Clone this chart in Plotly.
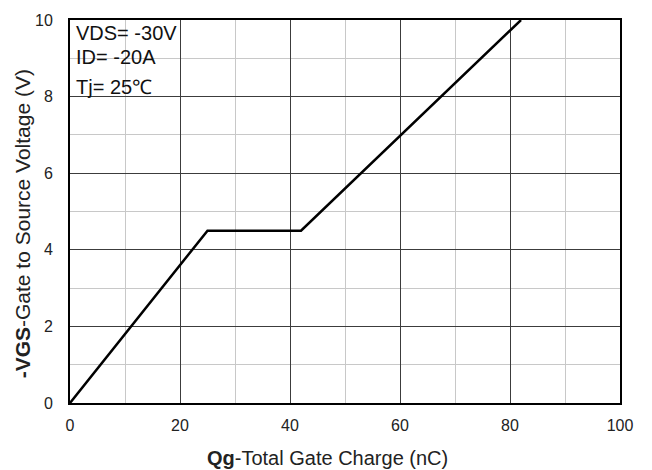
import plotly.graph_objects as go

qg = [0, 25, 42, 82]
vgs = [0, 4.5, 4.5, 10]
x_ticks = [0, 20, 40, 60, 80, 100]
y_ticks = [0, 2, 4, 6, 8, 10]
notes = ["VDS= -30V", "ID= -20A", "Tj= 25\u2103"]
x_title = "<b>Qg</b>-Total Gate Charge (nC)"
y_title = "<b>-VGS</b>-Gate to Source Voltage (V)"

FONT = "Liberation Sans, Arial, sans-serif"
L, R, T, B = 70, 620, 15, 403
W, H = 652, 470

fig = go.Figure()
fig.add_trace(go.Scatter(x=qg, y=vgs, mode="lines",
                         line=dict(color="black", width=2.5), showlegend=False))

axis_common = dict(
    showline=True, linecolor="black", linewidth=2, mirror=True,
    showgrid=True, gridcolor="#3c3c3c", gridwidth=1,
    zeroline=False, ticks="",
    tickfont=dict(family=FONT, size=16, color="#222"),
)
fig.update_xaxes(range=[0, 100], tickvals=x_ticks, ticklabelstandoff=7,
                 minor=dict(dtick=10, tick0=0, showgrid=True, gridcolor="#c8c8c8", gridwidth=1),
                 **axis_common)
fig.update_yaxes(range=[0, 10], tickvals=y_ticks, ticklabelstandoff=12,
                 minor=dict(dtick=1, tick0=0, showgrid=True, gridcolor="#c8c8c8", gridwidth=1),
                 **axis_common)

def px(xp):
    return (xp - L) / (R - L)

def py(yp):
    return (B - yp) / (B - T)

fig.add_annotation(x=px(327), y=py(459), xref="paper", yref="paper", text=x_title,
                   showarrow=False, xanchor="center", yanchor="middle",
                   font=dict(family=FONT, size=20, color="#222"))
fig.add_annotation(x=px(22), y=py(222), xref="paper", yref="paper", text=y_title,
                   showarrow=False, xanchor="center", yanchor="middle", textangle=-90,
                   font=dict(family=FONT, size=21, color="#222"))

ys = [28, 52, 83]
for t, yp in zip(notes, ys):
    fig.add_annotation(x=px(74), y=py(yp), xref="paper", yref="paper",
                       text=t, showarrow=False, xanchor="left", yanchor="middle",
                       font=dict(family=FONT, size=20, color="#111"))

fig.update_layout(width=W, height=H,
                  margin=dict(l=L, r=W - R, t=T, b=H - B),
                  plot_bgcolor="white", paper_bgcolor="white")
fig.write_html("out.html")
